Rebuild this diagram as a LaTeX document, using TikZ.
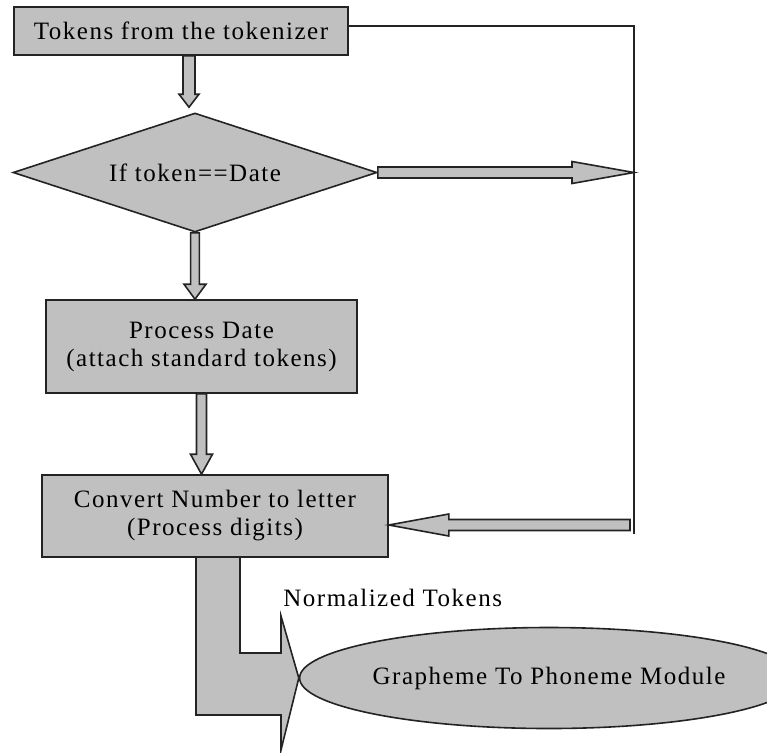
\documentclass[tikz,border=0pt]{standalone}
\usepackage{fontspec}
\setmainfont[LetterSpace=6]{Liberation Serif}
\usepackage{tikz}
\usetikzlibrary{shapes.geometric, calc}
\definecolor{boxgray}{RGB}{192,192,192}
\definecolor{linegray}{RGB}{35,35,35}

\begin{document}
\begin{tikzpicture}[x=0.5pt, y=-0.5pt, font=\fontsize{12.5}{14}\selectfont,
    box/.style={rectangle, draw=linegray, fill=boxgray, line width=0.8pt, align=center, inner sep=0pt},
    cond/.style={diamond, draw=linegray, fill=boxgray, line width=0.8pt, inner sep=0pt, aspect=3.06, minimum width=182pt, minimum height=59.5pt},
    blob/.style={ellipse, draw=linegray, fill=boxgray, line width=0.8pt, inner sep=0pt, minimum width=216pt, minimum height=50.5pt},
    link/.style={draw=linegray, line width=0.7pt},
    fat/.style args={#1/#2/#3}{draw=linegray, fill=boxgray, line width=0.8pt, line join=miter,
        to path={let \p1=(\tikztostart), \p2=(\tikztotarget), \p3=($(\p2)!#3!(\p1)$) in
            ($(\p1)!#1!90:(\p2)$) -- ($(\p3)!#1!90:(\p2)$) -- ($(\p3)!#2!90:(\p2)$) -- (\p2)
            -- ($(\p3)!#2!-90:(\p2)$) -- ($(\p3)!#1!-90:(\p2)$) -- ($(\p1)!#1!-90:(\p2)$) -- cycle}}
]
    \useasboundingbox (0,0) rectangle (767,752);

    % Input tokens
    \node[box, minimum width=167pt, minimum height=24pt] (tokens) at (181,31) {Tokens from the tokenizer};

    % Date test
    \node[cond] (check) at (195,172.5) {If token==Date};

    % Date processing
    \node[box, minimum width=155.5pt, minimum height=46.5pt] (date) at (201.5,346.5) {Process Date\\(attach standard tokens)};

    % Number conversion
    \node[box, minimum width=173pt, minimum height=41pt] (convert) at (215,516) {Convert Number to letter\\(Process digits)};

    % G2P module
    \node[blob] (g2p) at (549,678) {Grapheme To Phoneme Module};

    % Bypass line
    \coordinate (tr) at (634,26);
    \coordinate (br) at (634,534);
    \coordinate (back) at (630,525);
    \draw[link] (tokens.east |- tr) -- (tr) -- (br);

    % Arrows
    \draw[fat=3pt/5pt/6.5pt] ([xshift=4pt]tokens.south) to ([xshift=-3pt,yshift=2.5pt]check.north);
    \draw[fat=2.2pt/5.5pt/7.5pt] (check.south) to (check.south |- date.north);
    \draw[fat=2.5pt/5.5pt/10pt] (date.south) to (date.south |- convert.north);
    \draw[fat=2.75pt/5.5pt/31pt] (check.east) to (check.east -| tr);
    \draw[fat=2.75pt/5.5pt/30pt] (back) to (back -| convert.east);
    \draw[draw=linegray, fill=boxgray, line width=0.8pt, line join=miter]
        (196,557) |- (281,715) -- (281,750) -- (g2p.west) -- (281,616) -- (281,653) -| (240,557) -- cycle;

    % Output label
    \node[anchor=base west, inner sep=0pt] (normlabel) at (283,606) {Normalized Tokens};

\end{tikzpicture}
\end{document}
